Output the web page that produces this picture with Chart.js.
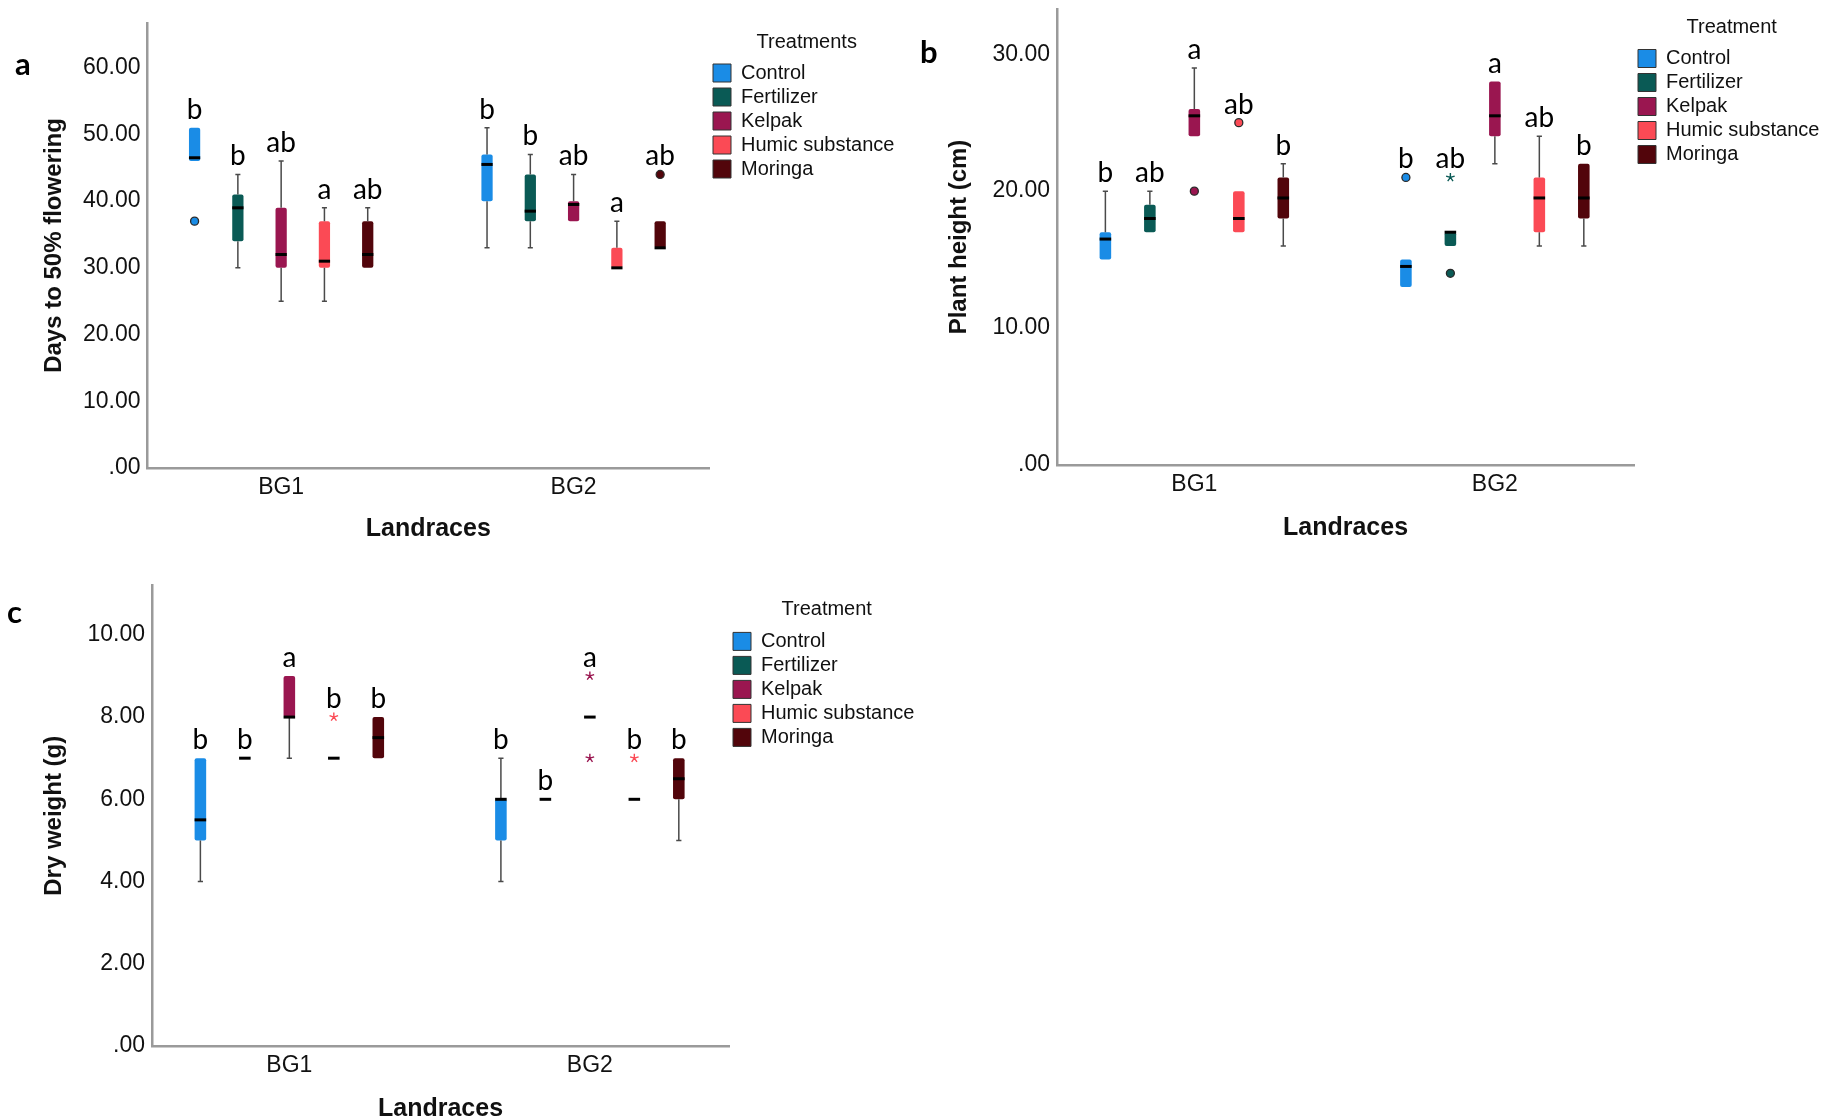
<!DOCTYPE html>
<html lang="en">
<head>
  <meta charset="UTF-8">
  <title>Landrace responses to treatments</title>
  <script src="https://cdn.jsdelivr.net/npm/chart.js"></script>
  <style>
    html, body { margin: 0; padding: 0; background: #fff; overflow: hidden; }
    body { width: 1836px; height: 1120px; position: relative; }
    .panel { position: absolute; }
    .tag { position: absolute; font: bold 31px Lato, sans-serif; color: #000; line-height: 1; }
  </style>
</head>
<body>
  <div class="panel" style="left:0;top:0"><canvas id="flowering" width="920" height="560"></canvas></div>
  <div class="panel" style="left:900px;top:0"><canvas id="height" width="936" height="560"></canvas></div>
  <div class="panel" style="left:0;top:570px"><canvas id="dryweight" width="940" height="560"></canvas></div>
  <div class="tag" style="left:15px;top:48px">a</div>
  <div class="tag" style="left:920px;top:36px">b</div>
  <div class="tag" style="left:7px;top:596px">c</div>

  <script>
    const landraces = ['BG1', 'BG2'];
    const treatments = ['Control', 'Fertilizer', 'Kelpak', 'Humic substance', 'Moringa'];
    const treatmentColors = ['#1a8ce6', '#0a5a55', '#9a1650', '#fb4a55', '#52050b'];

    // rows follow treatments, columns follow landraces
    // days to 50% flowering
    const flowerLow      = [[46, 33], [30, 33], [25, 37], [25, 30], [30, 33]];
    const flowerQ1       = [[46, 40], [34, 37], [30, 37], [30, 30], [30, 33]];
    const flowerMedian   = [[46.5, 45.5], [39, 38.5], [32, 39.5], [31, 30], [32, 33]];
    const flowerQ3       = [[51, 47], [41, 44], [39, 40], [37, 33], [37, 37]];
    const flowerHigh     = [[51, 51], [44, 47], [46, 44], [39, 37], [39, 37]];
    const flowerOutliers = [[[37], []], [[], []], [[], []], [[], []], [[], [44]]];
    const flowerExtremes = [[[], []], [[], []], [[], []], [[], []], [[], []]];
    const flowerLetters  = [['b', 'b'], ['b', 'b'], ['ab', 'ab'], ['a', 'a'], ['ab', 'ab']];
    const flowerTicks    = [0, 10, 20, 30, 40, 50, 60];

    // plant height (cm)
    const heightLow      = [[15, 13], [17, 16], [24, 22], [17, 16], [16, 16]];
    const heightQ1       = [[15, 13], [17, 16], [24, 24], [17, 17], [18, 18]];
    const heightMedian   = [[16.5, 14.5], [18, 17], [25.5, 25.5], [18, 19.5], [19.5, 19.5]];
    const heightQ3       = [[17, 15], [19, 17], [26, 28], [20, 21], [21, 22]];
    const heightHigh     = [[20, 15], [20, 17], [29, 28], [20, 24], [22, 22]];
    const heightOutliers = [[[], [21]], [[], [14]], [[20], []], [[25], []], [[], []]];
    const heightExtremes = [[[], []], [[], [21]], [[], []], [[], []], [[], []]];
    const heightLetters  = [['b', 'b'], ['ab', 'ab'], ['a', 'a'], ['ab', 'ab'], ['b', 'b']];
    const heightTicks    = [0, 10, 20, 30];

    // dry weight (g)
    const dryLow      = [[4, 4], [7, 6], [7, 8], [7, 6], [7, 5]];
    const dryQ1       = [[5, 5], [7, 6], [8, 8], [7, 6], [7, 6]];
    const dryMedian   = [[5.5, 6], [7, 6], [8, 8], [7, 6], [7.5, 6.5]];
    const dryQ3       = [[7, 6], [7, 6], [9, 8], [7, 6], [8, 7]];
    const dryHigh     = [[7, 7], [7, 6], [9, 8], [7, 6], [8, 7]];
    const dryOutliers = [[[], []], [[], []], [[], []], [[], []], [[], []]];
    const dryExtremes = [[[], []], [[], []], [[], [9, 7]], [[8], [7]], [[], []]];
    const dryLetters  = [['b', 'b'], ['b', 'b'], ['a', 'a'], ['b', 'b'], ['b', 'b']];
    const dryTicks    = [0, 2, 4, 6, 8, 10];

    const axisGrey = '#9a9a9a';
    const tickFont = {family: 'Liberation Sans', size: 23};

    // whiskers, medians, outlier marks and group letters on top of the floating bars
    const boxParts = {
      id: 'boxParts',
      afterDatasetsDraw(chart) {
        const ctx = chart.ctx;
        const y = chart.scales.y;
        ctx.save();
        chart.data.datasets.forEach((ds, t) => {
          const st = ds.stats;
          chart.getDatasetMeta(t).data.forEach((bar, g) => {
            const x = bar.x, w = bar.width;
            const [q1, q3] = ds.data[g].y;
            const cap = w * 0.45;

            ctx.strokeStyle = '#4a4a4a';
            ctx.lineWidth = 1.5;
            const whisker = (from, to) => {
              if (from === to) return;
              const a = y.getPixelForValue(from), b = y.getPixelForValue(to);
              ctx.beginPath();
              ctx.moveTo(x, a); ctx.lineTo(x, b);
              ctx.moveTo(x - cap / 2, b); ctx.lineTo(x + cap / 2, b);
              ctx.stroke();
            };
            whisker(q3, st.high[g]);
            whisker(q1, st.low[g]);

            const m = y.getPixelForValue(st.median[g]);
            ctx.strokeStyle = '#000';
            ctx.lineWidth = 3;
            ctx.beginPath();
            ctx.moveTo(x - w / 2, m); ctx.lineTo(x + w / 2, m);
            ctx.stroke();

            st.outliers[g].forEach(v => {
              ctx.beginPath();
              ctx.arc(x, y.getPixelForValue(v), 4, 0, Math.PI * 2);
              ctx.fillStyle = ds.backgroundColor;
              ctx.fill();
              ctx.strokeStyle = '#2a2a2a';
              ctx.lineWidth = 1.3;
              ctx.stroke();
            });

            st.extremes[g].forEach(v => {
              const py = y.getPixelForValue(v);
              ctx.strokeStyle = ds.backgroundColor;
              ctx.lineWidth = 1.4;
              ctx.beginPath();
              for (let k = 0; k < 5; k++) {
                const ang = -Math.PI / 2 + k * 2 * Math.PI / 5;
                ctx.moveTo(x, py);
                ctx.lineTo(x + 4.5 * Math.cos(ang), py + 4.5 * Math.sin(ang));
              }
              ctx.stroke();
            });

            const top = Math.max(q3, st.high[g], ...st.outliers[g], ...st.extremes[g]);
            ctx.fillStyle = '#000';
            ctx.font = '28px Lato';
            ctx.textAlign = 'center';
            ctx.textBaseline = 'alphabetic';
            ctx.fillText(st.letters[g], x, y.getPixelForValue(top) - 9);
          });
        });
        ctx.restore();
      }
    };

    function boxChart(id, p) {
      const datasets = treatments.map((name, t) => ({
        label: name,
        data: landraces.map((_, g) => ({x: g + 1, y: [p.q1[t][g], p.q3[t][g]]})),
        backgroundColor: treatmentColors[t],
        borderWidth: 0,
        borderRadius: 2,
        borderSkipped: false,
        categoryPercentage: 0.74,
        barPercentage: 0.26,
        stats: {
          low: p.low[t], median: p.median[t], high: p.high[t],
          outliers: p.outliers[t], extremes: p.extremes[t], letters: p.letters[t]
        }
      }));

      return new Chart(document.getElementById(id), {
        type: 'bar',
        data: {datasets},
        plugins: [boxParts],
        options: {
          responsive: false,
          animation: false,
          layout: {padding: {left: 0, top: p.top, right: p.right, bottom: 0}},
          plugins: {
            tooltip: {enabled: false},
            legend: {
              position: 'right',
              align: 'start',
              title: {
                display: true,
                text: p.legendTitle,
                color: '#111',
                font: {family: 'Liberation Sans', size: 20},
                padding: {top: p.legendTitleTop, bottom: p.legendTitleBottom}
              },
              labels: {
                color: '#000',
                font: {family: 'Liberation Sans', size: 20},
                boxWidth: 18,
                boxHeight: 18,
                padding: 4,
                generateLabels: chart => chart.data.datasets.map((ds, i) => ({
                  text: ds.label,
                  fillStyle: ds.backgroundColor,
                  strokeStyle: '#333',
                  lineWidth: 1,
                  hidden: false,
                  datasetIndex: i
                }))
              },
              onClick: null
            }
          },
          scales: {
            x: {
              type: 'linear',
              min: 0.543,
              max: 2.463,
              offset: false,
              grid: {display: false, drawTicks: false, offset: false},
              border: {display: true, color: axisGrey, width: 2.5},
              ticks: {
                color: '#111',
                font: tickFont,
                padding: 6,
                callback: v => landraces[v - 1]
              },
              afterBuildTicks: s => { s.ticks = landraces.map((_, g) => ({value: g + 1})); },
              afterFit: s => { s.height = p.bottomAxis; s.paddingLeft = 0; s.paddingRight = 0; },
              title: {
                display: true,
                text: 'Landraces',
                color: '#111',
                font: {family: 'Liberation Sans', size: 25, weight: 'bold'},
                padding: {top: 0, bottom: p.xTitlePad}
              }
            },
            y: {
              min: 0,
              max: p.yMax,
              grid: {display: false, drawTicks: false},
              border: {display: true, color: axisGrey, width: 2.5},
              ticks: {
                color: '#111',
                font: tickFont,
                padding: 7,
                callback: v => v === 0 ? '.00' : v.toFixed(2)
              },
              afterBuildTicks: s => { s.ticks = p.ticks.map(v => ({value: v})); },
              afterFit: s => { s.width = p.left; s.paddingTop = 0; s.paddingBottom = 0; },
              title: {
                display: true,
                text: p.yTitle,
                color: '#111',
                font: {family: 'Liberation Sans', size: 24, weight: 'bold'},
                padding: {top: p.yTitlePad, bottom: 0}
              }
            }
          }
        }
      });
    }

    boxChart('flowering', {
      low: flowerLow, q1: flowerQ1, median: flowerMedian, q3: flowerQ3, high: flowerHigh,
      outliers: flowerOutliers, extremes: flowerExtremes, letters: flowerLetters,
      ticks: flowerTicks, yMax: 66.7, yTitle: 'Days to 50% flowering', legendTitle: 'Treatments',
      left: 147.5, top: 23, right: 15.6, bottomAxis: 92, xTitlePad: 16, yTitlePad: 40,
      legendTitleTop: 9, legendTitleBottom: 3
    });

    boxChart('height', {
      low: heightLow, q1: heightQ1, median: heightMedian, q3: heightQ3, high: heightHigh,
      outliers: heightOutliers, extremes: heightExtremes, letters: heightLetters,
      ticks: heightTicks, yMax: 33.3, yTitle: 'Plant height (cm)', legendTitle: 'Treatment',
      left: 157, top: 9, right: 6.6, bottomAxis: 95, xTitlePad: 17, yTitlePad: 45,
      legendTitleTop: 8, legendTitleBottom: 3.5
    });

    boxChart('dryweight', {
      low: dryLow, q1: dryQ1, median: dryMedian, q3: dryQ3, high: dryHigh,
      outliers: dryOutliers, extremes: dryExtremes, letters: dryLetters,
      ticks: dryTicks, yMax: 11.2, yTitle: 'Dry weight (g)', legendTitle: 'Treatment',
      left: 152, top: 15.5, right: 15.6, bottomAxis: 84, xTitlePad: 6, yTitlePad: 40,
      legendTitleTop: 13.5, legendTitleBottom: 4.4
    });
  </script>
</body>
</html>
